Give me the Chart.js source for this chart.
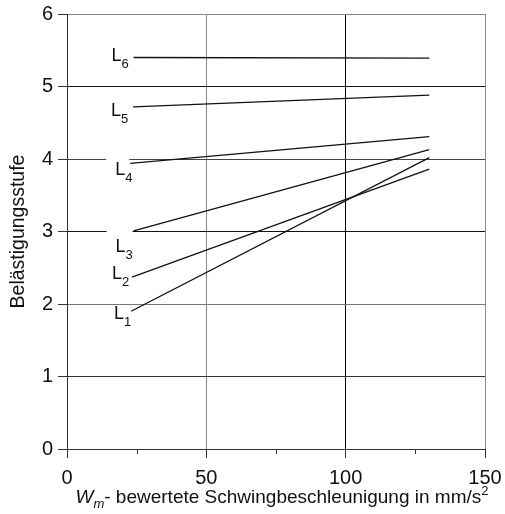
<!DOCTYPE html>
<html>
<head>
<meta charset="utf-8">
<script src="https://cdn.jsdelivr.net/npm/chart.js@4/dist/chart.umd.min.js"></script>
<style>
  html, body { margin: 0; padding: 0; background: #fff; }
  #wrap { width: 505px; height: 514px; }
</style>
</head>
<body>
<div id="wrap"><canvas id="chart"></canvas></div>
<script>
// Curve names (subscripts of L) and their straight-line end points
const curveIds = ['1', '2', '3', '4', '5', '6'];
const xStart = [23.0, 23.3, 23.9, 22.7, 23.7, 23.9];
const yStart = [1.90, 2.37, 3.01, 3.94, 4.72, 5.40];
const xEnd = [130, 130, 130, 130, 130, 130];
const yEnd = [4.02, 3.86, 4.13, 4.31, 4.88, 5.39];

// Axis ticks
const xMajorTicks = [0, 50, 100, 150];
const yTicks = [0, 1, 2, 3, 4, 5, 6];

// Label placement relative to the first point of each curve (pixels)
const labelDx = [-16, -19, -17, -14, -21, -21];
const labelDy = [8, 1.5, 21, 11.5, 9.5, 3.5];
const labelMask = [false, false, true, true, false, false];

const FONT = '"Liberation Sans", Arial, Helvetica, sans-serif';

const yGridColors = { 0: '#222', 1: '#333', 2: '#777', 3: '#111', 4: '#444', 5: '#111', 6: '#888' };
const xGridColors = { 0: '#333', 50: '#888', 100: '#000', 150: '#888' };

/** White patches behind labels that interrupt grid lines. */
const labelMaskPlugin = {
  id: 'labelMask',
  beforeDatasetsDraw(chart) {
    const ctx = chart.ctx;
    ctx.save();
    ctx.fillStyle = '#fff';
    chart.data.datasets.forEach((ds, i) => {
      if (!labelMask[i]) return;
      const p = chart.getDatasetMeta(i).data[0];
      const left = p.x + labelDx[i] - 10;
      ctx.fillRect(left, p.y - 6, p.x - 1 - left, 9);
    });
    ctx.restore();
  }
};

/** L_n labels at the start of every line. */
const curveLabelPlugin = {
  id: 'curveLabels',
  afterDatasetsDraw(chart) {
    const ctx = chart.ctx;
    ctx.save();
    ctx.fillStyle = '#111';
    ctx.textBaseline = 'alphabetic';
    ctx.textAlign = 'left';
    chart.data.datasets.forEach((ds, i) => {
      const p = chart.getDatasetMeta(i).data[0];
      const x = p.x + labelDx[i] - 1;
      const y = p.y + labelDy[i];
      ctx.font = '18px ' + FONT;
      ctx.fillText('L', x, y);
      const w = ctx.measureText('L').width;
      ctx.font = '13px ' + FONT;
      ctx.fillText(curveIds[i], x + w, y + 7);
    });
    ctx.restore();
  }
};

/** Short minor tick marks on the x axis and the rich-text x axis title. */
const xAxisExtrasPlugin = {
  id: 'xAxisExtras',
  afterDraw(chart) {
    const ctx = chart.ctx;
    const xs = chart.scales.x;
    ctx.save();
    ctx.strokeStyle = '#333';
    ctx.lineWidth = 1;
    xs.ticks.forEach(t => {
      if (xMajorTicks.includes(t.value)) return;
      const px = Math.round(xs.getPixelForValue(t.value)) + 0.5;
      ctx.beginPath();
      ctx.moveTo(px, xs.top);
      ctx.lineTo(px, xs.top + 5);
      ctx.stroke();
    });

    // title: W_m- bewertete Schwingbeschleunigung in mm/s²
    const parts = [
      { t: 'W', f: 'italic 19px ' + FONT, dy: 0 },
      { t: 'm', f: 'italic 13px ' + FONT, dy: 5 },
      { t: '- bewertete Schwingbeschleunigung in mm/s', f: '19px ' + FONT, dy: 0 },
      { t: '2', f: '13px ' + FONT, dy: -8 }
    ];
    let total = 0;
    parts.forEach(p => { ctx.font = p.f; p.w = ctx.measureText(p.t).width; total += p.w; });
    const cx = (chart.chartArea.left + chart.chartArea.right) / 2 + 6;
    let x = cx - total / 2;
    const baseY = 503;
    ctx.fillStyle = '#111';
    ctx.textBaseline = 'alphabetic';
    parts.forEach(p => {
      ctx.font = p.f;
      ctx.fillText(p.t, x, baseY + p.dy);
      x += p.w;
    });
    ctx.restore();
  }
};

const datasets = curveIds.map((id, i) => ({
  label: 'L' + id,
  data: [{ x: xStart[i], y: yStart[i] }, { x: xEnd[i], y: yEnd[i] }],
  borderColor: '#111',
  borderWidth: 1.3,
  pointRadius: 0,
  fill: false,
  tension: 0
}));

new Chart(document.getElementById('chart'), {
  type: 'line',
  data: { datasets },
  options: {
    responsive: true,
    maintainAspectRatio: false,
    animation: false,
    layout: { padding: { top: 14, right: 20, left: 0, bottom: 0 } },
    plugins: {
      legend: { display: false },
      tooltip: { enabled: false }
    },
    scales: {
      x: {
        type: 'linear',
        min: 0,
        max: 150,
        afterFit: scale => {
          scale.height = 65;
          scale.paddingLeft = 0;
          scale.paddingRight = 0;
        },
        afterBuildTicks: scale => {
          scale.ticks = [0, 25, 50, 75, 100, 125, 150].map(v => ({ value: v }));
        },
        ticks: {
          color: '#111',
          font: { family: FONT, size: 20 },
          padding: 8,
          maxRotation: 0,
          autoSkip: false,
          callback: v => (xMajorTicks.includes(v) ? String(v) : '')
        },
        grid: {
          color: c => xGridColors[c.tick?.value] || 'rgba(0,0,0,0)',
          tickColor: c => (xMajorTicks.includes(c.tick?.value) ? '#333' : 'rgba(0,0,0,0)'),
          tickLength: 9,
          lineWidth: 1
        },
        border: { display: true, color: '#333', width: 1 },
        title: { display: false }
      },
      y: {
        type: 'linear',
        min: 0,
        max: 6,
        afterFit: scale => {
          scale.width = 67;
          scale.paddingTop = 0;
          scale.paddingBottom = 0;
        },
        afterBuildTicks: scale => {
          scale.ticks = yTicks.map(v => ({ value: v }));
        },
        ticks: {
          color: '#111',
          font: { family: FONT, size: 20 },
          padding: 5
        },
        grid: {
          color: c => yGridColors[c.tick?.value] || '#444',
          tickColor: '#333',
          tickLength: 9,
          lineWidth: 1
        },
        border: { display: true, color: '#333', width: 1 },
        title: {
          display: true,
          text: 'Belästigungsstufe',
          color: '#111',
          font: { family: FONT, size: 19.5 },
          padding: { top: 7, bottom: 0 }
        }
      }
    }
  },
  plugins: [labelMaskPlugin, curveLabelPlugin, xAxisExtrasPlugin]
});
</script>
</body>
</html>
